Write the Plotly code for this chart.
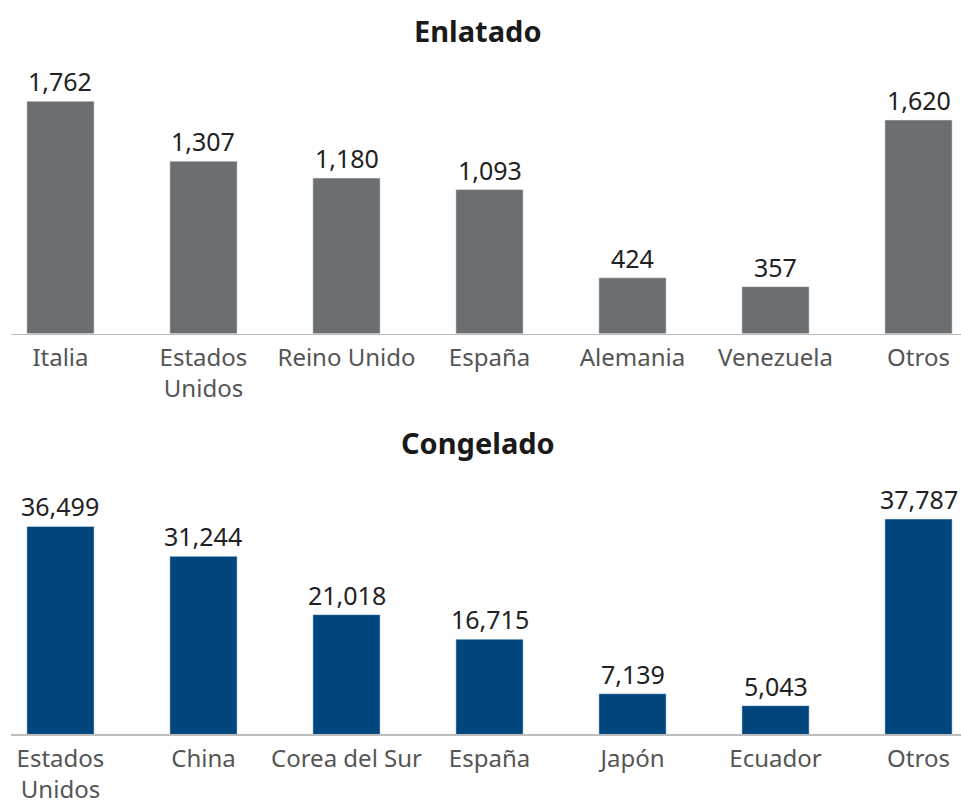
import plotly.graph_objects as go

# ---- data ----
enlatado_cats = ["Italia", "Estados<br>Unidos", "Reino Unido", "España", "Alemania", "Venezuela", "Otros"]
enlatado_vals = [1762, 1307, 1180, 1093, 424, 357, 1620]

congelado_cats = ["Estados<br>Unidos", "China", "Corea del Sur", "España", "Japón", "Ecuador", "Otros"]
congelado_vals = [36499, 31244, 21018, 16715, 7139, 5043, 37787]

titles = ["Enlatado", "Congelado"]

GRAY = "#6b6f72"
BLUE = "#00467d"
FONT = "Noto Sans"

W, H = 961, 805

def py(p):
    """page pixel y -> paper fraction"""
    return 1 - p / H

def px(p):
    return p / W

fig = go.Figure()

positions = list(range(len(enlatado_cats)))

fig.add_trace(go.Bar(
    x=positions, y=enlatado_vals, marker_color=GRAY, width=0.47,
    xaxis="x", yaxis="y", hoverinfo="skip",
))
fig.add_trace(go.Bar(
    x=positions, y=congelado_vals, marker_color=BLUE, width=0.47,
    xaxis="x2", yaxis="y2", hoverinfo="skip",
))

annotations = []
for xs, vals, ax in [(positions, enlatado_vals, ("x", "y")), (positions, congelado_vals, ("x2", "y2"))]:
    for x, v in zip(xs, vals):
        annotations.append(dict(
            x=x, y=v, xref=ax[0], yref=ax[1], text=f"{v:,}", showarrow=False,
            yanchor="bottom", yshift=1,
            font=dict(family=FONT, size=25, color="#222222"),
        ))

annotations.append(dict(x=px(478), y=py(31), xref="paper", yref="paper", text="<b>" + titles[0] + "</b>",
                        showarrow=False, yanchor="middle", font=dict(family=FONT, size=29, color="#1a1a1a")))
annotations.append(dict(x=px(478), y=py(456), xref="paper", yref="paper", text="<b>" + titles[1] + "</b>",
                        showarrow=False, yanchor="middle", font=dict(family=FONT, size=29, color="#1a1a1a")))

xaxis_common = dict(
    range=[-0.346, 6.297], showgrid=False, zeroline=False,
    showline=True, linecolor="#bdbdbd", linewidth=1.5,
    ticks="", tickfont=dict(family=FONT, size=24, color="#555555"),
    tickvals=positions, ticklabelstandoff=2, fixedrange=True,
)

fig.update_layout(
    width=W, height=H,
    margin=dict(l=0, r=0, t=0, b=0),
    paper_bgcolor="white", plot_bgcolor="white",
    showlegend=False,
    bargap=0,
    xaxis=dict(**xaxis_common, domain=[px(11), 1], anchor="y", ticktext=enlatado_cats),
    yaxis=dict(range=[0, 2000], domain=[py(344), py(72)], visible=False, fixedrange=True),
    xaxis2=dict(**xaxis_common, domain=[px(11), 1], anchor="y2", ticktext=congelado_cats),
    yaxis2=dict(range=[0, 40000], domain=[py(757), py(522)], visible=False, fixedrange=True),
    annotations=annotations,
)

fig.write_html(
    "out.html",
    config={"displayModeBar": False, "staticPlot": True},
    post_script="document.body.style.margin='0';document.body.style.overflow='hidden';",
)
